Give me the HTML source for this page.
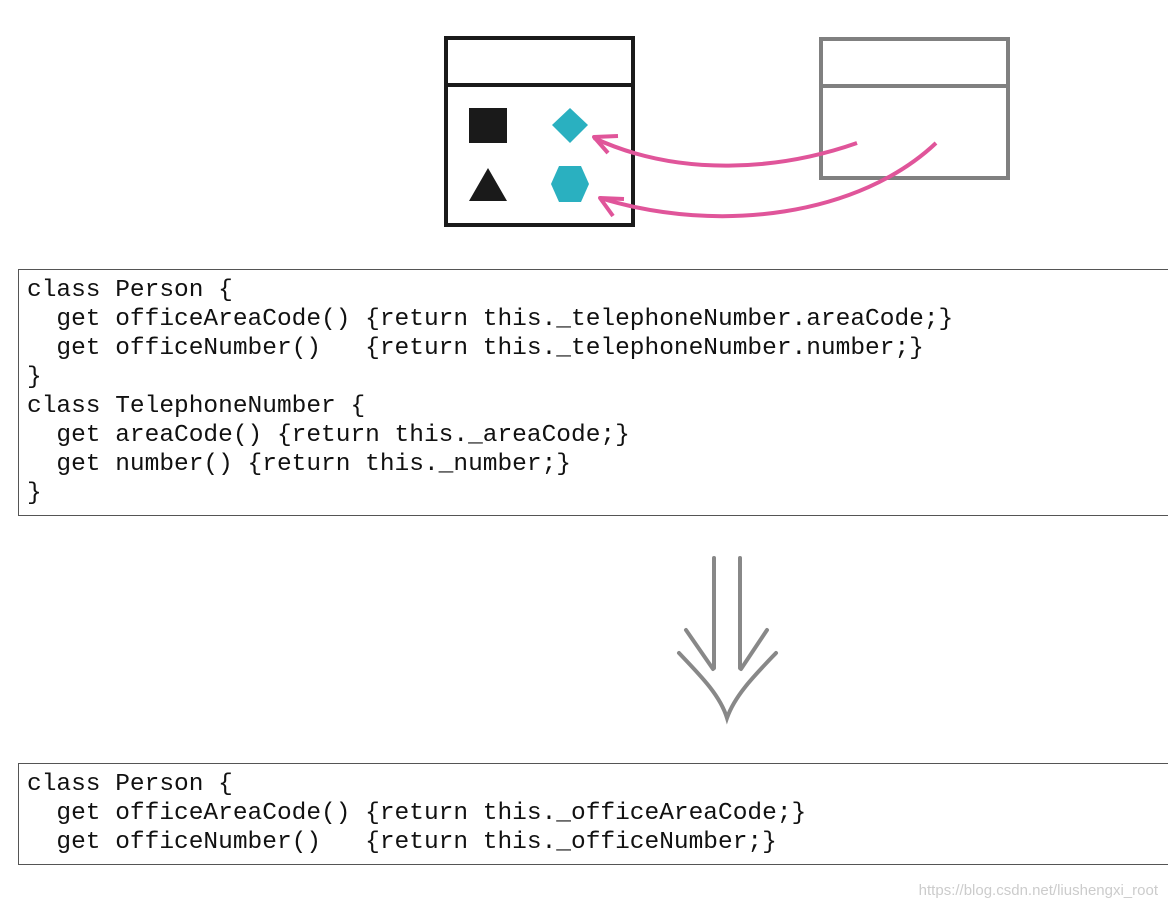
<!DOCTYPE html>
<html><head><style>
body{margin:0;width:1168px;height:910px;background:#fff;position:relative;overflow:hidden}
.code{position:absolute;left:18px;width:1160px;border:1px solid #555;box-sizing:border-box;font-family:"Liberation Mono",monospace;font-size:24.5px;line-height:29px;white-space:pre;padding:6px 0 0 8px;color:#111}
.wm{position:absolute;right:10px;top:882px;font-family:"Liberation Sans",sans-serif;font-size:15px;color:#ccc}
</style></head><body>
<svg width="1168" height="910" style="position:absolute;left:0;top:0">
<rect x="446" y="38" width="187" height="187" fill="none" stroke="#1a1a1a" stroke-width="4"/>
<line x1="446" y1="85" x2="633" y2="85" stroke="#1a1a1a" stroke-width="4"/>
<rect x="469" y="108" width="38" height="35" fill="#1a1a1a"/>
<polygon points="488,168 469,201 507,201" fill="#1a1a1a"/>
<polygon points="552,125 570,108 588,125 570,143" fill="#2ab0c0"/>
<polygon points="559,166 581,166 589,184 581,202 559,202 551,184" fill="#2ab0c0"/>
<rect x="821" y="39" width="187" height="139" fill="none" stroke="#808080" stroke-width="4"/>
<line x1="821" y1="86" x2="1008" y2="86" stroke="#808080" stroke-width="4"/>
<path d="M857,143 C780,170 680,178 594,138" fill="none" stroke="#e0559a" stroke-width="4"/>
<path d="M618,136 L594,137 L608,153" fill="none" stroke="#e0559a" stroke-width="4" stroke-linejoin="round"/>
<path d="M936,143 C860,215 720,235 600,198" fill="none" stroke="#e0559a" stroke-width="4"/>
<path d="M624,199 L600,198 L613,216" fill="none" stroke="#e0559a" stroke-width="4" stroke-linejoin="round"/>
<g stroke="#888" stroke-width="4" fill="none" stroke-linecap="round">
<line x1="714" y1="558" x2="714" y2="668"/>
<line x1="740" y1="558" x2="740" y2="668"/>
<line x1="686" y1="630" x2="713" y2="669"/>
<line x1="767" y1="630" x2="741" y2="669"/>
<path d="M679,653 C700,675 720,695 727,718 C735,695 755,675 776,653"/>
</g>
</svg>
<div class="code" style="top:269px;height:247px">class Person {
  get officeAreaCode() {return this._telephoneNumber.areaCode;}
  get officeNumber()   {return this._telephoneNumber.number;}
}
class TelephoneNumber {
  get areaCode() {return this._areaCode;}
  get number() {return this._number;}
}</div>
<div class="code" style="top:763px;height:102px">class Person {
  get officeAreaCode() {return this._officeAreaCode;}
  get officeNumber()   {return this._officeNumber;}</div>
<div class="wm">https://blog.csdn.net/liushengxi_root</div>
</body></html>
